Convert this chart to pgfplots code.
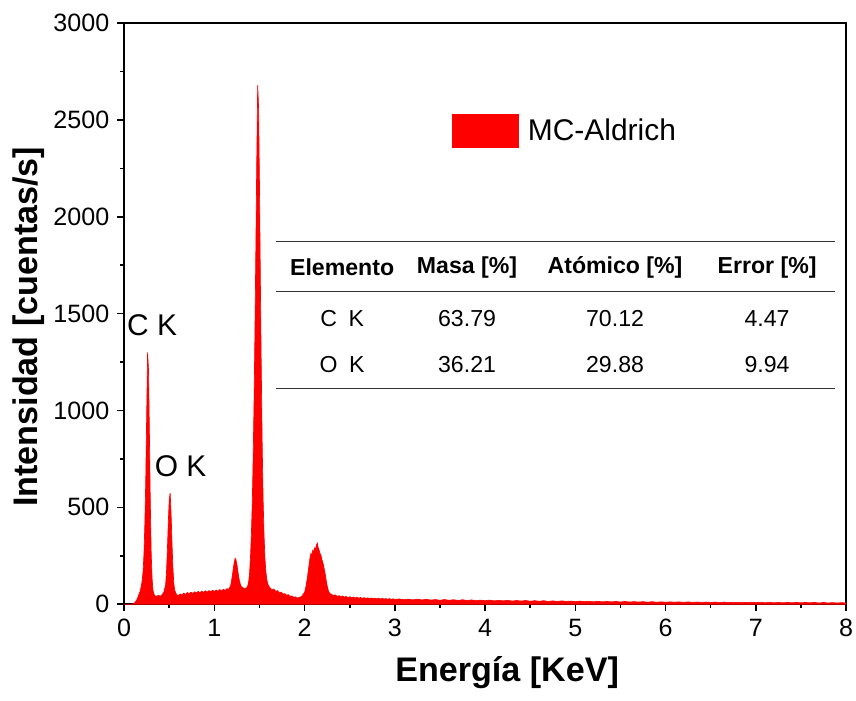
\documentclass[border=0pt]{standalone}
\usepackage{pgfplots}
\pgfplotsset{compat=1.18}
\usepackage{fontspec}
\setmainfont{Liberation Sans}

% EDS spectrum
\pgfplotstableread{
x y
0.00 0
0.04 0
0.08 0
0.10 2
0.12 8
0.14 22
0.16 45
0.18 70
0.20 120
0.21 170
0.22 260
0.23 420
0.24 650
0.25 980
0.26 1300
0.27 1210
0.28 880
0.29 520
0.30 260
0.31 130
0.32 70
0.33 52
0.34 44
0.36 40
0.38 46
0.40 41
0.42 48
0.44 62
0.46 100
0.47 170
0.48 290
0.49 430
0.50 540
0.51 573
0.52 470
0.53 320
0.54 190
0.55 110
0.56 72
0.58 50
0.60 44
0.62 53
0.64 47
0.66 57
0.68 50
0.70 60
0.72 54
0.74 62
0.76 55
0.78 64
0.80 58
0.82 66
0.84 59
0.86 67
0.88 61
0.90 69
0.92 62
0.94 70
0.96 64
0.98 72
1.00 65
1.02 73
1.04 67
1.06 75
1.08 68
1.10 77
1.12 71
1.14 80
1.16 78
1.18 95
1.19 120
1.20 150
1.21 185
1.22 215
1.23 237
1.24 228
1.25 205
1.26 170
1.27 140
1.28 115
1.29 100
1.30 90
1.32 84
1.34 80
1.36 86
1.37 95
1.38 115
1.39 160
1.40 240
1.41 360
1.42 520
1.43 760
1.44 1050
1.45 1420
1.46 1850
1.47 2300
1.48 2680
1.49 2560
1.50 2150
1.51 1650
1.52 1200
1.53 820
1.54 540
1.55 360
1.56 240
1.57 170
1.58 130
1.59 108
1.60 95
1.62 82
1.64 74
1.66 78
1.68 66
1.70 70
1.72 58
1.74 62
1.76 52
1.78 55
1.80 46
1.82 49
1.84 40
1.86 43
1.88 35
1.90 38
1.92 31
1.94 35
1.96 38
1.98 48
2.00 62
2.01 80
2.02 105
2.03 135
2.04 170
2.05 205
2.06 240
2.07 262
2.08 250
2.09 278
2.10 268
2.11 290
2.12 282
2.13 305
2.14 315
2.15 292
2.16 280
2.17 262
2.18 255
2.19 232
2.20 218
2.21 200
2.22 175
2.23 150
2.24 120
2.25 95
2.26 75
2.27 62
2.28 55
2.30 50
2.32 45
2.34 48
2.36 41
2.38 44
2.40 38
2.42 42
2.44 36
2.46 40
2.48 34
2.50 38
2.52 33
2.54 37
2.56 32
2.58 36
2.60 31
2.62 35
2.64 30
2.66 34
2.68 29
2.70 33
2.72 28
2.74 32
2.76 28
2.78 31
2.80 27
2.82 31
2.84 26
2.86 30
2.88 26
2.90 29
2.92 25
2.94 29
2.96 24
2.98 28
3.00 24
3.05 27
3.10 23
3.15 26
3.20 22
3.25 26
3.30 22
3.35 25
3.40 21
3.45 24
3.50 20
3.55 24
3.60 20
3.65 23
3.70 19
3.75 23
3.80 19
3.85 22
3.90 18
3.95 21
4.00 18
4.05 21
4.10 17
4.15 20
4.20 17
4.25 20
4.30 16
4.35 19
4.40 16
4.45 19
4.50 15
4.55 18
4.60 15
4.65 18
4.70 14
4.75 17
4.80 14
4.85 17
4.90 14
4.95 16
5.00 13
5.05 16
5.10 13
5.15 15
5.20 12
5.25 15
5.30 12
5.35 14
5.40 12
5.45 14
5.50 11
5.55 14
5.60 11
5.65 13
5.70 11
5.75 13
5.80 10
5.85 13
5.90 10
5.95 12
6.00 10
6.05 12
6.10 10
6.15 12
6.20 9
6.25 12
6.30 9
6.35 11
6.40 9
6.45 11
6.50 9
6.55 11
6.60 8
6.65 11
6.70 8
6.75 10
6.80 8
6.85 10
6.90 8
6.95 10
7.00 8
7.05 10
7.10 7
7.15 10
7.20 7
7.25 9
7.30 7
7.35 9
7.40 7
7.45 9
7.50 7
7.55 9
7.60 7
7.65 9
7.70 6
7.75 9
7.80 6
7.85 8
7.90 6
7.95 8
8.00 6
}\spectrum

\begin{document}
\begin{tikzpicture}
\useasboundingbox (-56.4pt,-43.6pt) rectangle (332.5pt,274.5pt);
\begin{axis}[
    at={(0,0)}, anchor=south west,
    scale only axis,
    width=328pt, height=264pt,
    xmin=0, xmax=8,
    ymin=0, ymax=3000,
    xtick={0,1,...,8},
    ytick={0,500,...,3000},
    minor x tick num=1,
    minor y tick num=1,
    tick pos=left,
    tick align=outside,
    major tick length=3.2pt,
    minor tick length=1.8pt,
    every tick/.style={black, line width=0.7pt},
    axis line style={line width=0.9pt},
    /pgf/number format/assume math mode=true,
    /pgf/number format/1000 sep={},
    tick label style={font=\fontsize{11.4}{13}\selectfont},
    xlabel={Energía [KeV]},
    ylabel={Intensidad [cuentas/s]},
    xlabel style={font=\fontsize{15.5}{18}\selectfont\bfseries, xshift=10pt, yshift=-2pt},
    ylabel style={font=\fontsize{15.5}{18}\selectfont\bfseries, xshift=-6pt, yshift=-3pt},
    legend style={draw=none, fill=none, at={(rel axis cs:0.445,0.814)}, anchor=west,
        font=\fontsize{13.6}{16}\selectfont},
    legend cell align=left,
    clip=true,
]
\addplot[fill=red, draw=red, line width=0.3pt,
    area legend,
    legend image code/.code={\fill[red] (0pt,-7.5pt) rectangle (30pt,7.5pt);}]
    table[x=x, y=y] {\spectrum} \closedcycle;
\addlegendentry{\hspace{2pt}MC-Aldrich}

\node[font=\fontsize{13.6}{16}\selectfont] at (axis cs:0.31,1440) {C K};
\node[font=\fontsize{13.6}{16}\selectfont] at (axis cs:0.625,712) {O K};

% composition table
\draw[line width=0.5pt, black!80] (rel axis cs:0.2105,0.6248) -- (rel axis cs:0.9848,0.6248);
\draw[line width=0.5pt, black!80] (rel axis cs:0.2105,0.5387) -- (rel axis cs:0.9848,0.5387);
\draw[line width=0.5pt, black!80] (rel axis cs:0.2105,0.3718) -- (rel axis cs:0.9848,0.3718);
\begin{scope}[every node/.style={font=\fontsize{10.5}{12}\selectfont}]
\node[font=\fontsize{10.5}{12}\selectfont\bfseries] at (rel axis cs:0.302,0.580) {Elemento};
\node[font=\fontsize{10.5}{12}\selectfont\bfseries] at (rel axis cs:0.475,0.580) {Masa [\%]};
\node[font=\fontsize{10.5}{12}\selectfont\bfseries] at (rel axis cs:0.680,0.580) {Atómico [\%]};
\node[font=\fontsize{10.5}{12}\selectfont\bfseries] at (rel axis cs:0.8906,0.580) {Error [\%]};
\node at (rel axis cs:0.302,0.4923) {C\enspace K};
\node at (rel axis cs:0.475,0.4923) {63.79};
\node at (rel axis cs:0.680,0.4923) {70.12};
\node at (rel axis cs:0.8906,0.4923) {4.47};
\node at (rel axis cs:0.302,0.4131) {O\enspace K};
\node at (rel axis cs:0.475,0.4131) {36.21};
\node at (rel axis cs:0.680,0.4131) {29.88};
\node at (rel axis cs:0.8906,0.4131) {9.94};
\end{scope}
\end{axis}
\end{tikzpicture}
\end{document}
